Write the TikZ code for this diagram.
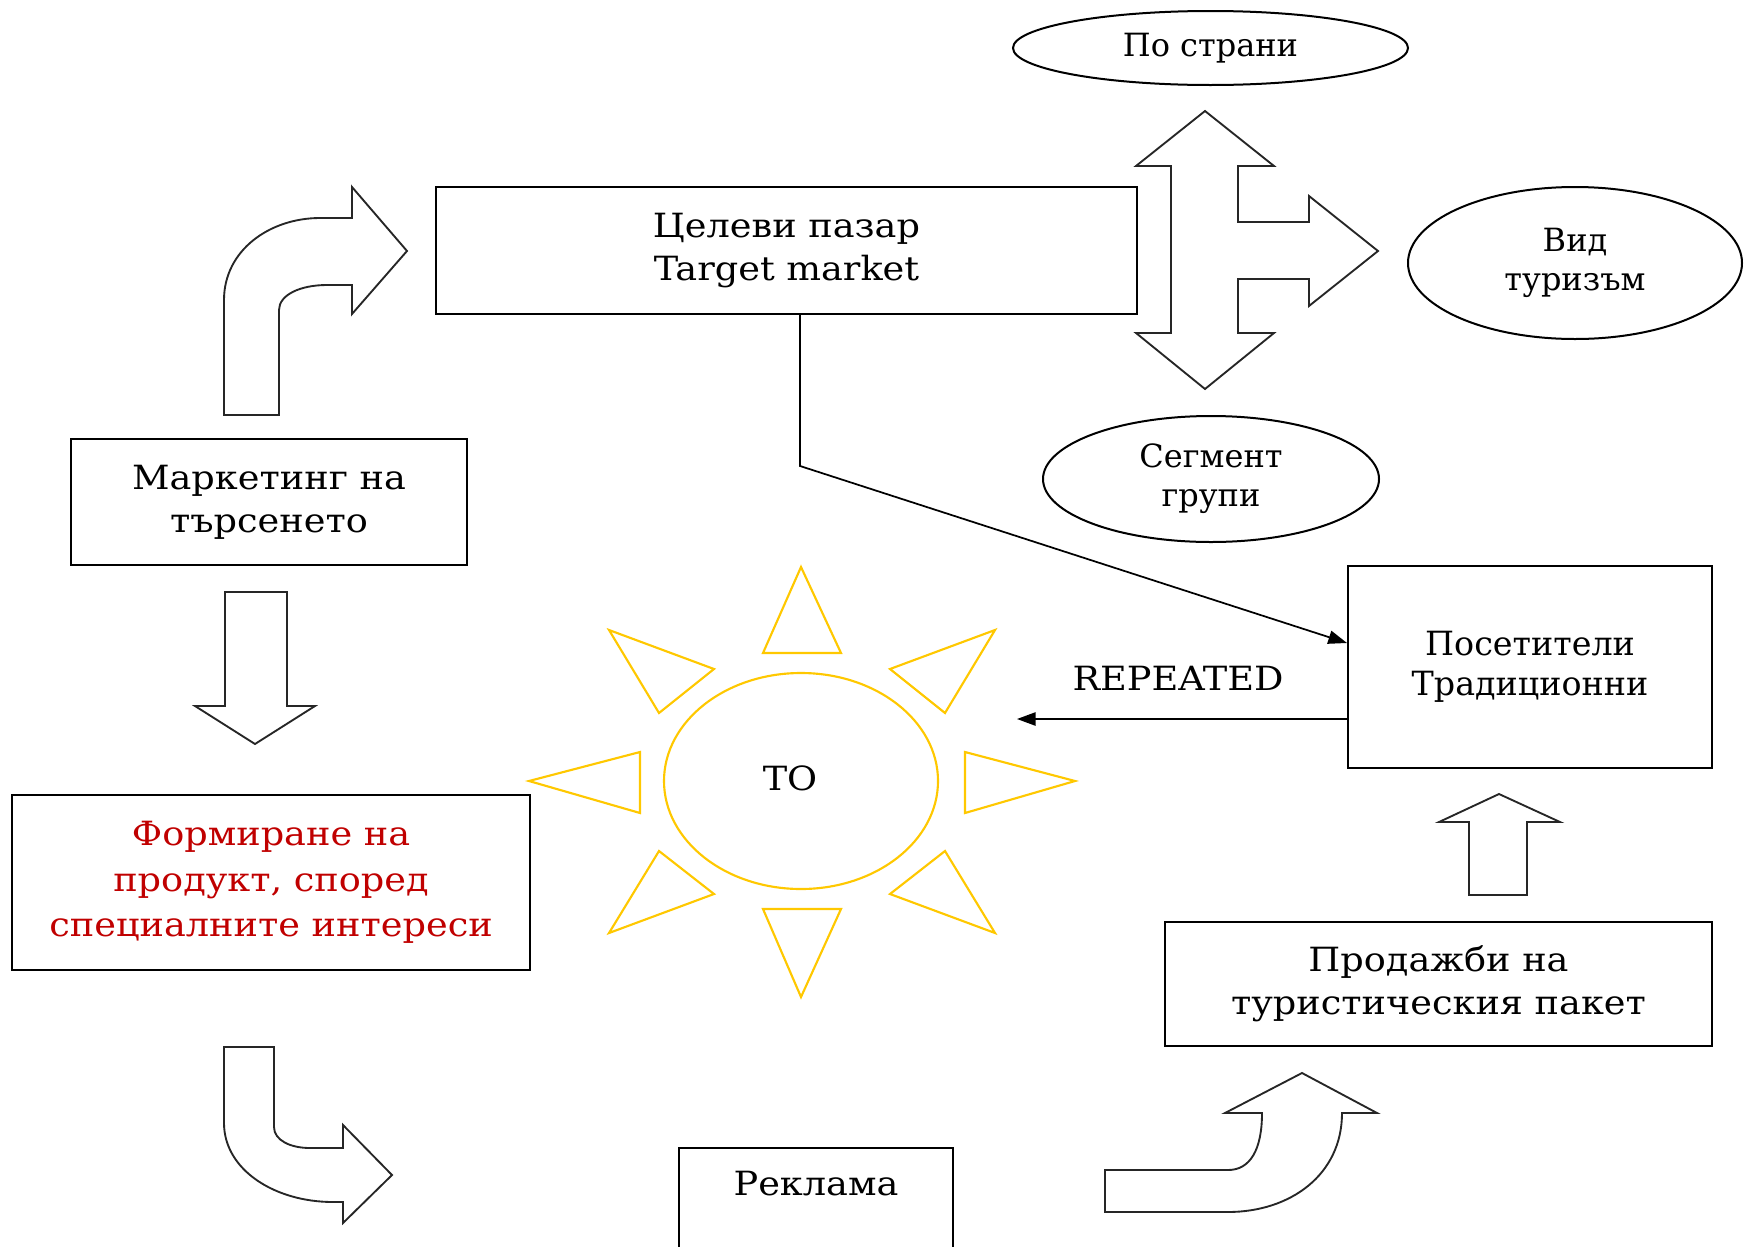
\documentclass[tikz,border=0pt]{standalone}
\usepackage{fontspec}
\setmainfont{DejaVu Serif}
\newfontfamily\widefont[FakeStretch=1.1]{DejaVu Serif}
\usepackage{tikz}
\usetikzlibrary{arrows.meta,shapes.geometric,calc}

\definecolor{sunline}{RGB}{255,200,0}
\definecolor{prodred}{RGB}{192,0,0}

\tikzset{
  box/.style={draw, line width=1.5pt, inner sep=0pt, align=center, font=\widefont\fontsize{25}{32}\selectfont},
  oval/.style={draw, ellipse, line width=1.5pt, inner sep=0pt, align=center, font=\fontsize{24}{29}\selectfont},
  txt/.style={inner sep=0.75pt, align=center, font=\widefont\fontsize{25}{32}\selectfont},
  blockarrow/.style={draw=black!85, line width=1.4pt, fill=white},
  ray/.style={draw=sunline, line width=1.6pt},
  link/.style={line width=1.3pt, -{Triangle[length=14pt,width=10pt]}}
}

\begin{document}
\begin{tikzpicture}[x=0.75pt,y=0.75pt,yscale=-1,xscale=1]
%set diagram frame: 1748 x 1246
\clip (0,0) rectangle (1748,1246);

%Shape: Rectangle [target market]
\node[box, minimum width=525.75pt, minimum height=95.25pt] (tgt) at (786.5,250.5) {Целеви пазар\\Target market};
%Shape: Rectangle [demand marketing]
\node[box, minimum width=297pt, minimum height=94.5pt] (mkt) at (269,502) {Маркетинг на\\търсенето};
%Shape: Rectangle [product]
\node[box, text=prodred, font=\widefont\fontsize{25}{34}\selectfont, minimum width=388.5pt, minimum height=131.25pt] (prod) at (271,882.5) {Формиране на\\продукт, според\\специалните интереси};
%Shape: Rectangle [advertising]
\node[box, minimum width=205.5pt, minimum height=114pt] (rekl) at (816,1224) {};
% Text Node
\node[txt] (rekltxt) at (816,1184) {Реклама};
%Shape: Rectangle [sales]
\node[box, minimum width=410.25pt, minimum height=93pt] (sales) at (1438.5,984) {Продажби на\\туристическия пакет};
%Shape: Rectangle [visitors]
\node[box, font=\fontsize{25}{30}\selectfont, minimum width=273pt, minimum height=151.5pt] (vis) at (1530,667) {Посетители\\Традиционни};

%Shape: Ellipse
\node[oval, minimum width=296.25pt, minimum height=55.5pt] (strani) at (1210.5,48) {По страни};
%Shape: Ellipse
\node[oval, minimum width=250.5pt, minimum height=114pt] (vid) at (1575,263) {Вид\\туризъм};
%Shape: Ellipse
\node[oval, minimum width=252pt, minimum height=94.5pt] (segm) at (1211,479) {Сегмент\\групи};

%Shape: Bent Up Arrow
\draw[blockarrow] (224,415) -- (224,300) .. controls (224,250) and (270,218) .. (320,218) -- (352,218) -- (352,187) -- (407,251) -- (352,314) -- (352,285) -- (327,285) .. controls (300,285) and (279,295) .. (279,310) -- (279,415) -- cycle ;
%Shape: Down Arrow
\draw[blockarrow] (225,592) -- (287,592) -- (287,706) -- (315,706) -- (255,744) -- (195,706) -- (225,706) -- cycle ;
%Shape: Bent Down Arrow
\draw[blockarrow] (224,1047) -- (274,1047) -- (274,1127) .. controls (274,1140) and (290,1148) .. (310,1148) -- (343,1148) -- (343,1125) -- (392,1175) -- (343,1223) -- (343,1202) -- (333,1202) .. controls (275,1202) and (224,1170) .. (224,1123) -- cycle ;
%Shape: Curved Up Arrow
\draw[blockarrow] (1105,1170) -- (1228,1170) .. controls (1250,1170) and (1262,1150) .. (1262,1113) -- (1225,1113) -- (1302,1073) -- (1377,1113) -- (1342,1113) .. controls (1342,1175) and (1290,1212) .. (1228,1212) -- (1105,1212) -- cycle ;
%Shape: Up Arrow
\draw[blockarrow] (1469,895) -- (1469,822) -- (1439,822) -- (1499,794) -- (1560,822) -- (1527,822) -- (1527,895) -- cycle ;
%Shape: Left-Right-Up Arrow
\draw[blockarrow] (1205,111) -- (1274,166) -- (1238,166) -- (1238,222) -- (1309,222) -- (1309,196) -- (1378,251) -- (1309,306) -- (1309,279) -- (1238,279) -- (1238,333) -- (1274,333) -- (1205,389) -- (1136,333) -- (1171,333) -- (1171,166) -- (1136,166) -- cycle ;

%Shape: Sun
\node[draw=sunline, line width=1.6pt, ellipse, inner sep=0pt, minimum width=205.5pt, minimum height=162pt] (to) at (801,781) {};
% Text Node
\node[txt] (totxt) at (790,778) {ТО};
%Shape: Triangle
\draw[ray] (801,567) -- (841,653) -- (763,653) -- cycle ;
%Shape: Triangle
\draw[ray] (801,997) -- (841,909) -- (763,909) -- cycle ;
%Shape: Triangle
\draw[ray] (529,781) -- (640,752) -- (640,813) -- cycle ;
%Shape: Triangle
\draw[ray] (1075,781) -- (965,752) -- (965,813) -- cycle ;
%Shape: Triangle
\draw[ray] (609,630) -- (714,669) -- (659,713) -- cycle ;
%Shape: Triangle
\draw[ray] (995,630) -- (890,669) -- (945,713) -- cycle ;
%Shape: Triangle
\draw[ray] (609,933) -- (714,894) -- (659,851) -- cycle ;
%Shape: Triangle
\draw[ray] (995,933) -- (890,894) -- (945,851) -- cycle ;

%Straight Lines
\coordinate (bend) at (800,466);
\draw[link] (tgt.south -| bend) -- (bend) -- ($(vis.west)+(0,-24)$) ;
%Straight Lines
\coordinate (rep) at (1017,719);
\draw[link] ($(vis.west)+(0,52)$) -- (rep) ;
% Text Node
\node[txt] (replbl) at (1178,678) {REPEATED};

\end{tikzpicture}
\end{document}
